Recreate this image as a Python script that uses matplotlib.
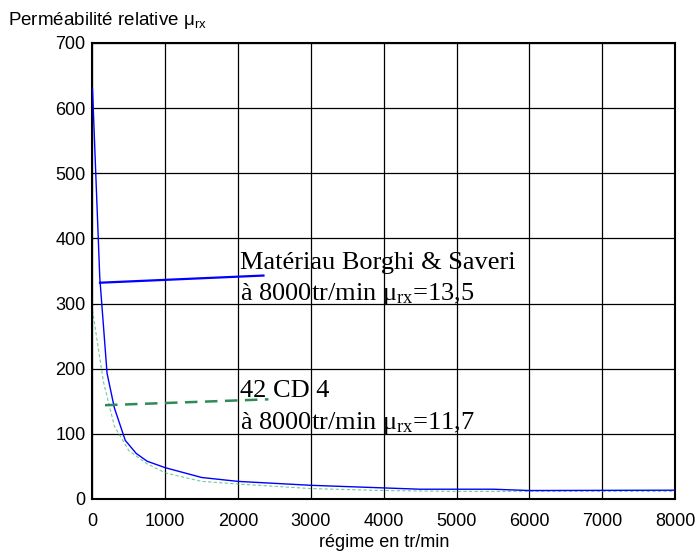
import matplotlib
matplotlib.use("Agg")
import matplotlib.pyplot as plt

# courbe Borghi & Saveri (bleu)
regime_bs = [0, 100, 200, 300, 450, 600, 750, 1000, 1500, 2000, 3000, 4000, 4500, 5500, 6000, 8000]
mu_bs = [630, 340, 193, 140, 90, 70, 58, 48, 33, 27, 21, 17, 15, 15, 13, 13.5]

# courbe 42 CD 4 (vert pointille)
regime_cd = [0, 150, 300, 500, 750, 1000, 1500, 2000, 3000, 4000, 5000, 8000]
mu_cd = [290, 180, 112, 74, 54, 40, 27, 23, 16, 13, 11.7, 11.7]

x_ticks = [0, 1000, 2000, 3000, 4000, 5000, 6000, 7000, 8000]
y_ticks = [0, 100, 200, 300, 400, 500, 600, 700]

fig = plt.figure(figsize=(6.97, 5.54), dpi=100)
ax = fig.add_axes([0.1327, 0.0993, 0.8357, 0.8231])

ax.plot(regime_bs, mu_bs, color="#0000ff", lw=1.0, zorder=3)
ax.plot(regime_cd, mu_cd, color="#3cb371", lw=0.8, ls=(0, (3, 2)), alpha=0.7, zorder=2)

# traits de rappel
ax.plot([103, 2348], [332, 343], color="#0000ff", lw=1.6, zorder=4)
ax.plot([172, 2416], [144, 153], color="#2e8b57", lw=1.8, ls=(0, (5, 3)), zorder=4)

serif = "Liberation Serif"
fs = 19
ax.text(2030, 353, "Matériau Borghi & Saveri", family=serif, fontsize=fs, va="baseline")
ax.text(2030, 305, r"à 8000tr/min $\mathregular{\mu_{rx}}$=13,5", family=serif, fontsize=fs, va="baseline")
ax.text(2030, 157, "42 CD 4", family=serif, fontsize=fs, va="baseline")
ax.text(2030, 108, r"à 8000tr/min $\mathregular{\mu_{rx}}$=11,7", family=serif, fontsize=fs, va="baseline")

ax.set_xlim(0, 8000)
ax.set_ylim(0, 700)
ax.set_xticks(x_ticks)
ax.set_yticks(y_ticks)
ax.grid(True, color="black", lw=0.9)
ax.set_axisbelow(True)
ax.tick_params(length=0, labelsize=13)
ax.tick_params(axis="x", pad=10)
ax.tick_params(axis="y", pad=5)
for lab in ax.get_xticklabels() + ax.get_yticklabels():
    lab.set_family("Liberation Sans")
for s in ax.spines.values():
    s.set_linewidth(1.5)

ax.set_xlabel("régime en tr/min", family="Liberation Sans", fontsize=13, labelpad=3)
fig.text(0.012, 0.982, r"Perméabilité relative μ$\mathregular{_{rx}}$", family="Liberation Sans",
         fontsize=13.5, va="top", ha="left")

fig.savefig("out.png", dpi=100)
